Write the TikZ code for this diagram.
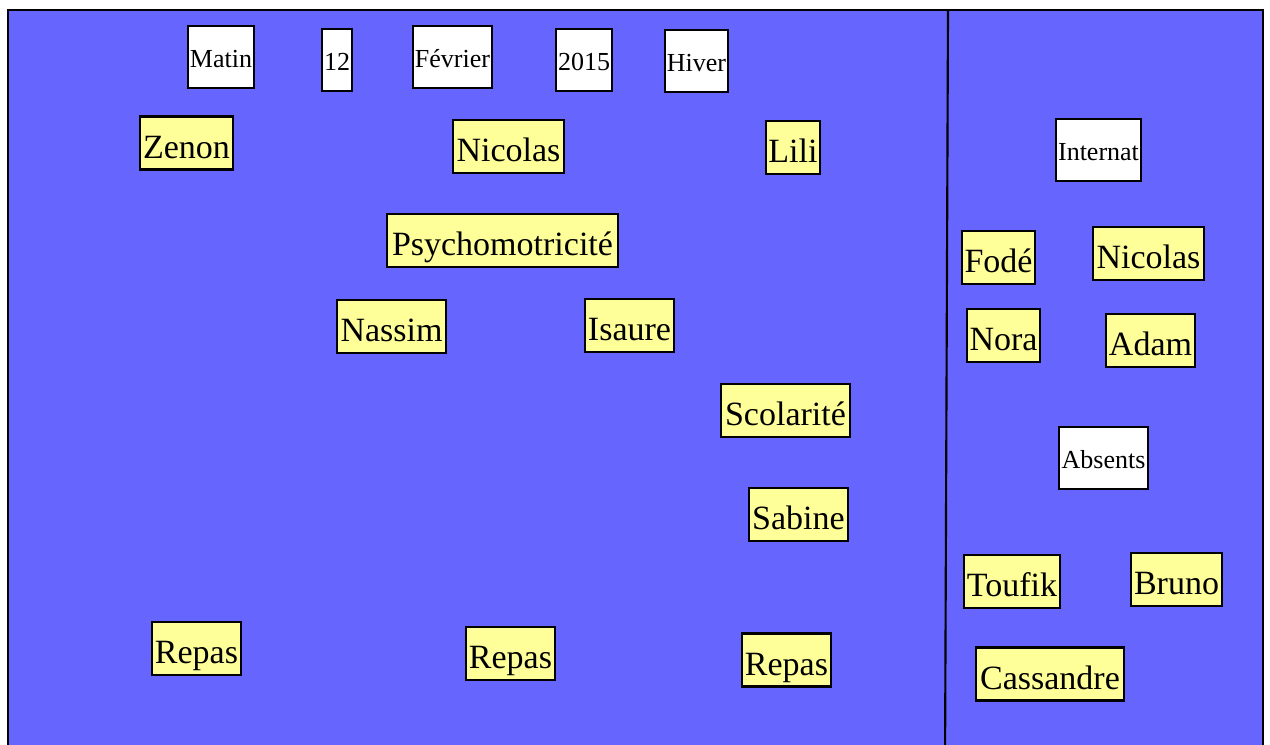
\documentclass[tikz,border=0pt]{standalone}
\usepackage{fontspec}
\setmainfont{Liberation Serif}
\usepackage{tikz}
\usetikzlibrary{positioning}

\definecolor{tableau}{HTML}{6666FF}
\definecolor{postit}{HTML}{FFFF99}

\begin{document}
\begin{tikzpicture}[
            x=0.75pt, y=-0.75pt,
            ybox/.style={draw, fill=postit, line width=1.9pt, inner sep=0pt, text height=22.5pt, text depth=0pt, minimum width=#1*0.75pt, minimum height=53*0.75pt, font=\fontsize{25.5}{27}\selectfont},
            wbox/.style={draw, fill=white, line width=1.9pt, inner sep=0pt, text height=15.5pt, text depth=0pt, minimum width=#1*0.75pt, minimum height=62*0.75pt, font=\fontsize{19.5}{21}\selectfont}
        ]
            \clip (0,0) rectangle (1270,744);
            \fill[white] (0,0) rectangle (1270,744);
            % the board
            \draw[fill=tableau, line width=1.6pt] (8,10) rectangle (1263,770);
            \draw[line width=1.6pt] (948,10) -- (945,770);

            % date
            \node[wbox=66] (matin) at (221,57) {Matin};
            \node[wbox=30] (jour) at (337,60) {12};
            \node[wbox=79] (mois) at (452.5,57) {Février};
            \node[wbox=56] (annee) at (584,60) {2015};
            \node[wbox=63] (saison) at (696.5,61) {Hiver};

            % activities
            \node[ybox=93] (zenon) at (186.5,143) {Zenon};
            \node[ybox=111] (nicolasA) at (508.5,146.5) {Nicolas};
            \node[ybox=54] (lili) at (793,147.5) {Lili};
            \node[ybox=231] (psycho) at (502.5,240.5) {Psychomotricité};
            \node[ybox=109] (nassim) at (391.5,326.5) {Nassim};
            \node[ybox=89] (isaure) at (629.5,325.5) {Isaure};
            \node[ybox=129] (scolarite) at (785.5,410.5) {Scolarité};
            \node[ybox=99] (sabine) at (798.5,514.5) {Sabine};
            \node[ybox=89] (repasA) at (196.5,648.5) {Repas};
            \node[ybox=89] (repasB) at (510.5,653.5) {Repas};
            \node[ybox=89] (repasC) at (786.5,660) {Repas};

            % right column
            \node[wbox=85] (internat) at (1098.5,150) {Internat};
            \node[ybox=73] (fode) at (998.5,257.5) {Fodé};
            \node[ybox=111] (nicolasB) at (1148.5,253.5) {Nicolas};
            \node[ybox=73] (nora) at (1003.5,335.5) {Nora};
            \node[ybox=89] (adam) at (1150.5,340.5) {Adam};
            \node[wbox=89] (absents) at (1103.5,458) {Absents};
            \node[ybox=96] (toufik) at (1012,581.5) {Toufik};
            \node[ybox=91] (bruno) at (1176.5,579.5) {Bruno};
            \node[ybox=148] (cassandre) at (1050,674) {Cassandre};
        \end{tikzpicture}
\end{document}
